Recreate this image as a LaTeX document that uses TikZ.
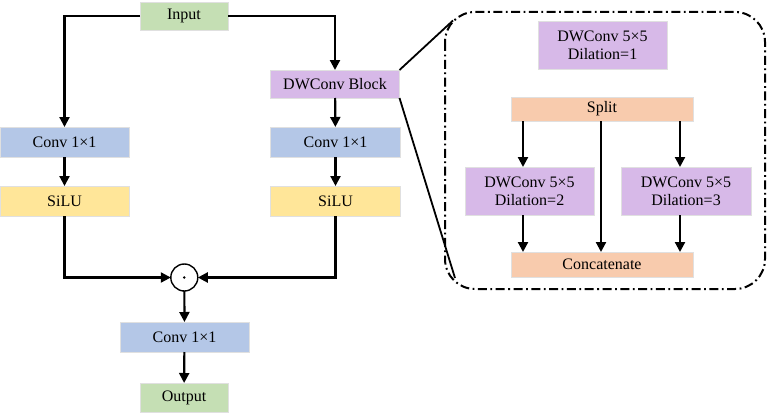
\documentclass[tikz,border=0pt]{standalone}
\usepackage{fontspec}
\setmainfont{Liberation Serif}
\usetikzlibrary{arrows.meta,calc}
\definecolor{cgreen}{HTML}{C5DFB4}
\definecolor{cblue}{HTML}{B4C7E7}
\definecolor{cyellow}{HTML}{FFE699}
\definecolor{cpurple}{HTML}{D7B9E8}
\definecolor{corange}{HTML}{F8CBAD}
\begin{document}
\begin{tikzpicture}[x=1pt,y=-1pt,
  box/.style={draw=black!12,line width=0.6pt,inner sep=0pt,outer sep=0pt,font=\fontsize{16}{18}\selectfont,align=center},
  arr/.style={line width=2.2pt,-{Triangle[length=10pt,width=10pt]}},
  ln/.style={line width=2.2pt}]
\useasboundingbox (0,0) rectangle (767,412);
% left column
\node[box,fill=cgreen,minimum width=88pt,minimum height=28pt] (in) at (184,16) {Input};
\node[box,fill=cblue,minimum width=129pt,minimum height=30pt] (c1) at (64.5,142) {Conv 1×1};
\node[box,fill=cyellow,minimum width=129pt,minimum height=30pt] (s1) at (64.5,201) {SiLU};
\node[box,fill=cpurple,minimum width=129pt,minimum height=28pt] (dw) at (335,84) {DWConv Block};
\node[box,fill=cblue,minimum width=130pt,minimum height=30pt] (c2) at (335.5,142) {Conv 1×1};
\node[box,fill=cyellow,minimum width=130pt,minimum height=30pt] (s2) at (335.5,201) {SiLU};
\node[draw,circle,line width=1.4pt,minimum size=27pt,inner sep=0pt,outer sep=0pt] (mul) at (184.3,277.5) {};
\fill (mul.center) circle (1.4pt);
\node[box,fill=cblue,minimum width=129pt,minimum height=30pt] (c3) at (184.5,337) {Conv 1×1};
\node[box,fill=cgreen,minimum width=88pt,minimum height=29pt] (out) at (184,397.5) {Output};
\draw[arr] (in.west) -| (c1.north);
\draw[arr] (in.east) -| (dw.north);
\draw[arr] (c1) -- (s1);
\draw[arr] (dw) -- (c2);
\draw[arr] (c2) -- (s2);
\draw[arr] (s1.south) |- (mul.west);
\draw[arr] (s2.south) |- (mul.east);
\draw[arr] (mul) -- (c3);
\draw[arr] (c3) -- (out);
% detail box
\draw[line width=2pt,rounded corners=30pt,dash pattern=on 9pt off 3.5pt on 1.8pt off 3.5pt] (445,12) rectangle (765,289);
\coordinate (zt) at (453,20.5);
\coordinate (zb) at (455,278);
\draw[ln,line width=1.8pt] (dw.north east) -- (zt);
\draw[ln,line width=1.8pt] (dw.south east) -- (zb);
\node[box,fill=cpurple,minimum width=129pt,minimum height=48pt] (d1) at (602.5,45) {DWConv 5×5\\Dilation=1};
\node[box,fill=corange,minimum width=182pt,minimum height=24pt] (sp) at (602,109) {Split};
\node[box,fill=cpurple,minimum width=129pt,minimum height=48pt] (d2) at (529.5,191) {DWConv 5×5\\Dilation=2};
\node[box,fill=cpurple,minimum width=130pt,minimum height=48pt] (d3) at (686,191) {DWConv 5×5\\Dilation=3};
\node[box,fill=corange,minimum width=182pt,minimum height=25pt] (cat) at (602,264.5) {Concatenate};
\draw[arr] (sp.south -| 523,0) -- (d2.north -| 523,0);
\draw[arr] (sp.south -| 680,0) -- (d3.north -| 680,0);
\draw[arr] (sp.south -| 601,0) -- (cat.north -| 601,0);
\draw[arr] (d2.south -| 523,0) -- (cat.north -| 523,0);
\draw[arr] (d3.south -| 680,0) -- (cat.north -| 680,0);
\end{tikzpicture}
\end{document}
